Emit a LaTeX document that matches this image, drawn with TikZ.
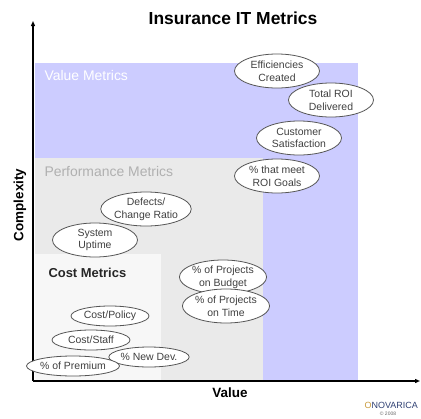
\documentclass[tikz,border=0pt]{standalone}
\usepackage{fontspec}
\setmainfont{Liberation Sans}
\usetikzlibrary{shapes.geometric,arrows.meta}
\definecolor{valuebg}{HTML}{CCCCFF}
\definecolor{perfbg}{HTML}{EAEAEA}
\definecolor{costbg}{HTML}{F7F7F7}
\definecolor{perftext}{HTML}{B0B0B0}
\definecolor{ellline}{HTML}{555555}
\definecolor{novgold}{HTML}{C89A3A}
\definecolor{novblue}{HTML}{2E3F72}
\tikzset{
  metric/.style={ellipse, draw=ellline, line width=0.8bp, fill=white, inner sep=0pt,
    minimum width=85bp, minimum height=34bp, align=center,
    font=\fontsize{10.5}{12.7}\selectfont, text=black!75},
  metricone/.style={metric, minimum width=78bp, minimum height=20bp},
  axis/.style={line width=1.6bp, -{Triangle[length=5bp,width=4bp]}},
  axislabel/.style={font=\fontsize{13.5}{16}\selectfont\bfseries},
  zonelabel/.style={anchor=west, font=\fontsize{14}{16}\selectfont}
}
\begin{document}
\begin{tikzpicture}[x=1bp,y=-1bp]
\useasboundingbox (0,0) rectangle (421,419);
% regions
\fill[valuebg] (35,63) rectangle (358,381);
\fill[perfbg] (35,158) rectangle (263,381);
\fill[costbg] (35,254) rectangle (161,381);
% zone labels
\node[zonelabel, text=white] (vm) at (41,76) {Value Metrics};
\node[zonelabel, text=perftext] (pm) at (41,172) {Performance Metrics};
\node[zonelabel, font=\fontsize{13}{16}\selectfont\bfseries, text=black!85] (cm) at (45,273) {Cost Metrics};
% axes
\coordinate (o) at (33,381);
\coordinate (ytop) at (33,21);
\coordinate (xend) at (420,381);
\draw[axis] (o) -- (ytop);
\draw[axis] (o) -- (xend);
% titles
\node[font=\fontsize{17.5}{20}\selectfont\bfseries] (title) at (233,18) {Insurance IT Metrics};
\node[axislabel] (xl) at (230,393) {Value};
\node[axislabel, rotate=90] (yl) at (20,205) {Complexity};
% metrics
\node[metric] (eff) at (277,71) {Efficiencies\\Created};
\node[metric] (roi) at (331,100) {Total ROI\\Delivered};
\node[metric] (cust) at (299,138) {Customer\\Satisfaction};
\node[metric] (meet) at (277,176) {\% that meet\\ROI Goals};
\node[metric] (def) at (146,209) {Defects/\\Change Ratio};
\node[metric] (up) at (95,240) {System\\Uptime};
\node[metric] (bud) at (223,277) {\% of Projects\\on Budget};
\node[metric] (time) at (226,306) {\% of Projects\\on Time};
\node[metricone] (pol) at (110,316) {Cost/Policy};
\node[metricone] (staff) at (91,340) {Cost/Staff};
\node[metricone] (dev) at (149,357) {\% New Dev.};
\node[metricone] (prem) at (73,366) {\% of Premium};
% logo
\node[anchor=east, inner sep=0pt, font=\fontsize{9}{10}\selectfont] (logo) at (418,405) {\textcolor{novgold}{O}\textcolor{novblue}{NOVARICA}};
\node[inner sep=0pt, font=\fontsize{5}{6}\selectfont, text=black!60] (copy) at (388,414) {© 2008};
\end{tikzpicture}
\end{document}
